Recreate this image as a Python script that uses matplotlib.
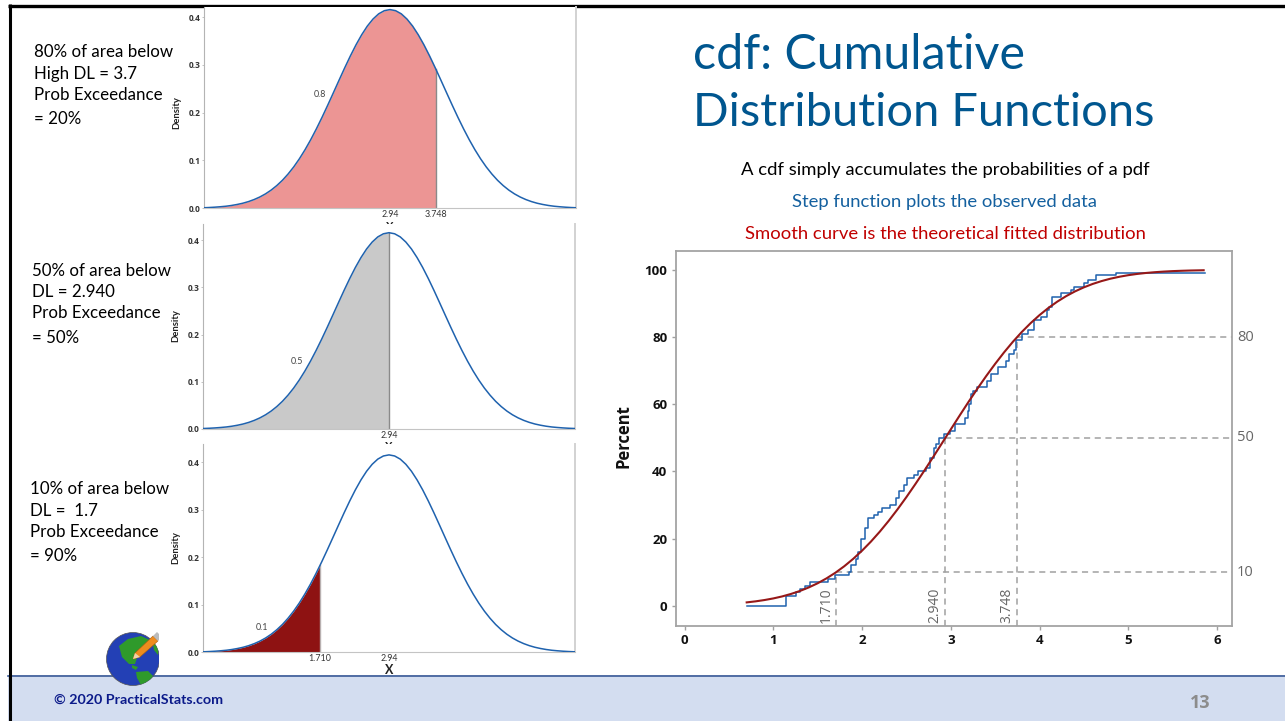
import matplotlib
matplotlib.use("Agg")
import matplotlib.pyplot as plt
from matplotlib.patches import Circle, Polygon, Rectangle
import numpy as np

W, H = 1285, 721

# density curve
dens_x = [-0.46, -0.36, -0.26, -0.16, -0.06, 0.04, 0.14, 0.24, 0.34, 0.44, 0.54, 0.64, 0.74, 0.84, 0.94,
          1.04, 1.14, 1.24, 1.34, 1.44, 1.54, 1.64, 1.74, 1.84, 1.94, 2.04, 2.14, 2.24, 2.34, 2.44,
          2.54, 2.64, 2.74, 2.84, 2.94, 3.04, 3.14, 3.24, 3.34, 3.44, 3.54, 3.64, 3.74, 3.84, 3.94,
          4.04, 4.14, 4.24, 4.34, 4.44, 4.54, 4.64, 4.74, 4.84, 4.94, 5.04, 5.14, 5.24, 5.34, 5.44,
          5.54, 5.64, 5.74, 5.84, 5.94, 6.04, 6.14, 6.24, 6.34]
dens_y = [0.0008, 0.0011, 0.0016, 0.0023, 0.0032, 0.0043, 0.0059, 0.0080, 0.0106, 0.0140, 0.0183, 0.0236,
          0.0301, 0.0380, 0.0475, 0.0586, 0.0717, 0.0866, 0.1036, 0.1226, 0.1435, 0.1662, 0.1903, 0.2156,
          0.2416, 0.2678, 0.2937, 0.3186, 0.3419, 0.3629, 0.3811, 0.3958, 0.4067, 0.4133, 0.4156, 0.4133,
          0.4067, 0.3958, 0.3811, 0.3629, 0.3419, 0.3186, 0.2937, 0.2678, 0.2416, 0.2156, 0.1903, 0.1662,
          0.1435, 0.1226, 0.1036, 0.0866, 0.0717, 0.0586, 0.0475, 0.0380, 0.0301, 0.0236, 0.0183, 0.0140,
          0.0106, 0.0080, 0.0059, 0.0043, 0.0032, 0.0023, 0.0016, 0.0011, 0.0008]

# panels, top to bottom
cuts = [3.748, 2.94, 1.71]
areas = ["0.8", "0.5", "0.1"]
fill_colors = ["#EC9594", "#C9C9C9", "#8E1212"]
panel_ticks = [[2.94, 3.748], [2.94], [1.71, 2.94]]
panel_ticklabels = [["2.94", "3.748"], ["2.94"], ["1.710", "2.94"]]
area_label_x = [1.70, 1.30, 0.68]
area_label_y = [0.238, 0.142, 0.053]
density_ticks = [0.0, 0.1, 0.2, 0.3, 0.4]

# step function (observed data)
step_x = [0.70, 1.145, 1.26, 1.30, 1.36, 1.41, 1.62, 1.70, 1.85, 1.88, 1.93, 1.96, 1.99, 2.03, 2.07,
          2.14, 2.18, 2.22, 2.31, 2.38, 2.42, 2.47, 2.51, 2.59, 2.63, 2.72, 2.77, 2.81, 2.83, 2.87,
          2.92, 2.99, 3.05, 3.16, 3.19, 3.21, 3.225, 3.25, 3.30, 3.41, 3.45, 3.53, 3.62, 3.66, 3.71,
          3.74, 3.80, 3.87, 3.94, 4.02, 4.08, 4.11, 4.14, 4.24, 4.35, 4.39, 4.50, 4.55, 4.64, 4.86, 5.86]
step_y = [0, 3, 4, 5, 6, 7, 8, 9, 10, 12, 14, 16, 20, 23, 26,
          27, 28, 29, 30, 32, 34, 36, 38, 39, 40, 41, 44, 47, 48, 50,
          51, 52, 54, 56, 58, 60, 63, 64, 65, 67, 69, 71, 73, 75, 76,
          79, 81, 82, 85, 86, 88, 89, 92, 93, 94, 95, 96, 97, 98.5, 99, 99]

# smooth fitted curve
fit_x = [0.7, 0.8, 0.9, 1.0, 1.1, 1.2, 1.3, 1.4, 1.5, 1.6, 1.7, 1.8, 1.9, 2.0, 2.1, 2.2, 2.3, 2.4, 2.5, 2.6,
         2.7, 2.8, 2.9, 3.0, 3.1, 3.2, 3.3, 3.4, 3.5, 3.6, 3.7, 3.8, 3.9, 4.0, 4.1, 4.2, 4.3, 4.4, 4.5, 4.6,
         4.7, 4.8, 4.9, 5.0, 5.1, 5.2, 5.3, 5.4, 5.5, 5.6, 5.7, 5.85]
fit_y = [0.98, 1.29, 1.68, 2.16, 2.76, 3.50, 4.38, 5.44, 6.68, 8.14, 9.82, 11.75, 13.94, 16.38, 19.08, 22.04,
         25.25, 28.69, 32.34, 36.17, 40.13, 44.2, 48.34, 52.49, 56.62, 60.68, 64.62, 68.4, 72.0, 75.41, 78.58,
         81.49, 84.13, 86.52, 88.65, 90.53, 92.17, 93.58, 94.79, 95.81, 96.66, 97.37, 97.94, 98.41, 98.78, 99.07,
         99.30, 99.48, 99.62, 99.72, 99.80, 99.88]

ref_x = [1.71, 2.94, 3.748]
ref_xlabels = ["1.710", "2.940", "3.748"]
ref_pct = [10, 50, 80]

plt.rcParams['font.family'] = ['Lato', 'DejaVu Sans']
fig = plt.figure(figsize=(W / 100, H / 100), dpi=100, facecolor="white")


def box(left, top, right, bottom):
    return [left / W, 1 - bottom / H, (right - left) / W, (bottom - top) / H]


# slide layer in pixel coordinates
bg = fig.add_axes([0, 0, 1, 1], zorder=-1)
bg.set_xlim(0, W)
bg.set_ylim(H, 0)
bg.axis("off")

bg.add_patch(Rectangle((8, 675), W - 8, H - 675, fc="#D3DDF0", ec="none", zorder=1))
bg.plot([8, W], [675.5, 675.5], color="#3A5A96", lw=1.2, zorder=2)
bg.plot([8, W], [5.5, 5.5], color="black", lw=2.4, zorder=3, solid_capstyle="butt")
bg.plot([9.5, 9.5], [4, H], color="black", lw=2.2, zorder=3, solid_capstyle="butt")

TITLE = "#00568F"
bg.text(693, 55, "cdf: Cumulative", color=TITLE, fontsize=34.8, va="center", ha="left")
bg.text(693, 113, "Distribution Functions", color=TITLE, fontsize=33.8, va="center", ha="left")
bg.text(945, 170, "A cdf simply accumulates the probabilities of a pdf", color="black", fontsize=13.3, va="center", ha="center")
bg.text(945, 202, "Step function plots the observed data", color="#14609F", fontsize=13.3, va="center", ha="center")
bg.text(945, 234, "Smooth curve is the theoretical fitted distribution", color="#C00000", fontsize=13.3, va="center", ha="center")

left_notes = [(34, [(52, "80% of area below"), (74, "High DL = 3.7"), (95, "Prob Exceedance"), (119, "= 20%")]),
              (32, [(271, "50% of area below"), (292, "DL = 2.940"), (313, "Prob Exceedance"), (338, "= 50%")]),
              (30, [(489, "10% of area below"), (511, "DL =  1.7"), (532, "Prob Exceedance"), (556, "= 90%")])]
for x0, rows in left_notes:
    for y0, s in rows:
        bg.text(x0, y0, s, color="black", fontsize=12.2, va="center", ha="left")

for y0, y_lab in zip([113, 326, 548], [177, 176, 176]):
    bg.text(y_lab, y0, "Density", rotation=90, fontsize=6.8, fontweight="bold", va="center", ha="center", color="#222222")

# the X labels of the upper two panels are cut off by the next panel
bg.text(390, 226, "X", fontsize=8, fontweight="bold", va="center", ha="center", color="#222222")
bg.text(389, 447, "X", fontsize=8, fontweight="bold", va="center", ha="center", color="#222222")
bg.text(389, 670, "X", fontsize=9, fontweight="bold", va="center", ha="center", color="#222222", zorder=4)

bg.text(54, 700, "© 2020 PracticalStats.com", color="#0B1A8A", fontsize=10.3, fontweight="bold", va="center", ha="left", zorder=4)
bg.text(1200, 703, "13", color="#8C8C8C", fontsize=13, fontweight="bold", family="Open Sans", va="center", ha="center", zorder=4)

# globe logo
clip = Rectangle((100, 625), 59, 70, transform=bg.transData)
globe = Circle((133, 659), 26.5, fc="#2340B5", ec="#555555", lw=0.5, zorder=5)
bg.add_patch(globe)
globe.set_clip_path(clip)
land = [[(119, 646), (128, 639), (141, 636), (150, 640), (146, 647), (141, 652), (137, 658), (135, 664), (129, 664), (122, 657)],
        [(132, 665), (138, 667), (136, 670), (132, 668)],
        [(136, 672), (148, 671), (153, 676), (147, 684), (141, 685), (137, 678)],
        [(152, 640), (158, 648), (158, 655), (154, 650)]]
for pts in land:
    p = Polygon(pts, closed=True, fc="#2F9A2B", ec="none", zorder=6)
    bg.add_patch(p)
    p.set_clip_path(globe)
bg.add_patch(Polygon([(133, 659), (135, 653), (153, 636), (158, 641), (140, 657)], closed=True, fc="#EE8C1E", ec="#A85C10", lw=0.4, zorder=7))
bg.add_patch(Polygon([(133, 659), (135, 653), (140, 657)], closed=True, fc="#F1D2A8", ec="none", zorder=8))
bg.add_patch(Polygon([(153, 636), (157, 632), (159, 634), (159, 640), (158, 641)], closed=True, fc="#BBBBBB", ec="none", zorder=8))

# left panels: left, top, right, bottom, xlim, ylim top
panel_boxes = [(204.3, 7, 576, 208.3), (203.3, 224, 575.3, 429), (203.3, 444, 575.3, 652.3)]
panel_xlim = [(-0.34, 6.226), (-0.37, 6.26), (-0.37, 6.26)]
panel_ytop = [0.421, 0.434, 0.4385]

for i in range(3):
    ax = fig.add_axes(box(*panel_boxes[i]), zorder=2)
    ax.set_xlim(*panel_xlim[i])
    ax.set_ylim(0, panel_ytop[i])
    cx = [v for v in dens_x if v <= cuts[i]] + [cuts[i]]
    cy = np.interp(cx, dens_x, dens_y)
    ax.fill_between(cx, 0, cy, color=fill_colors[i], lw=0, zorder=1)
    ax.plot([cuts[i], cuts[i]], [0, cy[-1]], color="#8A8A8A" if i < 2 else "#B8B0B0", lw=1.0, zorder=2)
    ax.plot(dens_x, dens_y, color="#1F62AE", lw=1.1, zorder=3)
    ax.text(area_label_x[i], area_label_y[i], areas[i], fontsize=6.4, color="#444444", ha="center", va="center")
    ax.set_xticks(panel_ticks[i])
    ax.set_xticklabels(panel_ticklabels[i], fontsize=6.4, color="#333333")
    ax.tick_params(axis="x", length=0, pad=1.5)
    ax.set_yticks(density_ticks)
    ax.set_yticklabels(["%.1f" % v for v in density_ticks], fontsize=6, fontweight="bold", family="Open Sans", color="#333333")
    ax.tick_params(axis="y", length=1.5, width=0.5, color="#AAAAAA", pad=1.2)
    ax.spines["top"].set_visible(False)
    ax.spines["left"].set_color("#B4B4B4")
    ax.spines["bottom"].set_color("#C4C4C4")
    ax.spines["right"].set_color("#D2D2D2")
    ax.spines["right"].set_linewidth(1.4)

# cdf chart
cdf = fig.add_axes(box(675.7, 250.7, 1231.7, 625.7), zorder=2)
cdf.set_xlim(-0.1, 6.166)
cdf.set_ylim(-5.96, 105.7)
for xv, lab, pct in zip(ref_x, ref_xlabels, ref_pct):
    cdf.plot([xv, xv], [-5.96, pct], color="#A0A0A0", lw=1.1, ls=(0, (4, 3)), zorder=1)
    cdf.plot([xv, 6.166], [pct, pct], color="#A0A0A0", lw=1.1, ls=(0, (4, 3)), zorder=1)
    cdf.text(xv - 0.03, -5.2, lab, rotation=90, fontsize=10, color="#666666", ha="right", va="bottom", family="Open Sans")
    cdf.text(6.225, pct, str(pct), fontsize=10.5, color="#666666", ha="left", va="center", family="Open Sans")
cdf.step(step_x, step_y, where="post", color="#1F62AE", lw=1.1, zorder=2)
cdf.plot(fit_x, fit_y, color="#961818", lw=1.5, zorder=3)
cdf.set_xticks(range(7))
cdf.set_yticks(range(0, 101, 20))
cdf.tick_params(axis="both", length=3, width=1, color="#A0A0A0", labelsize=9.5, pad=3)
for lab in cdf.get_xticklabels() + cdf.get_yticklabels():
    lab.set_family("Open Sans")
    lab.set_fontweight("bold")
    lab.set_color("#111111")
for s in cdf.spines.values():
    s.set_color("#A4A4A4")
    s.set_linewidth(1.3)
bg.text(623, 436, "Percent", rotation=90, fontsize=12, fontweight="bold", family="Open Sans", color="#111111", ha="center", va="center")

fig.savefig("out.png", dpi=100)
